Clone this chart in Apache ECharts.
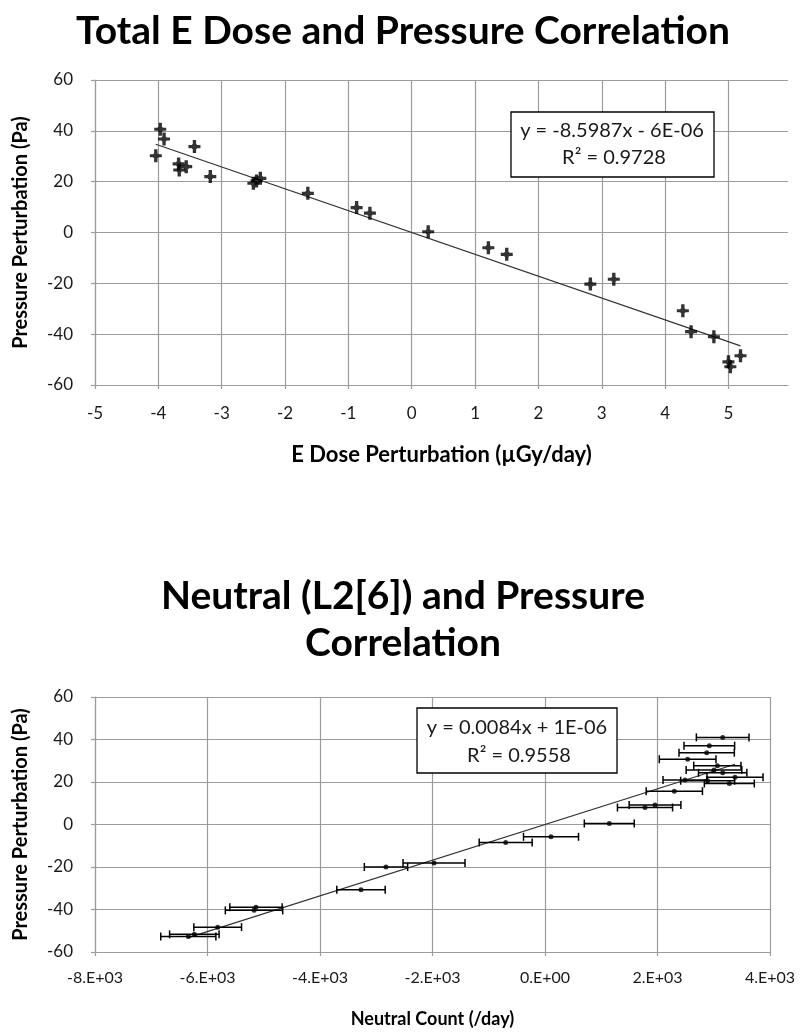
<!DOCTYPE html>
<html>
<head>
<meta charset="utf-8">
<script src="https://cdn.jsdelivr.net/npm/echarts@6/dist/echarts.min.js"></script>
<style>
	html, body { margin: 0; padding: 0; background: #fff; }
	#main { width: 806px; height: 1032px; }
</style>
</head>
<body>
<div id="main"></div>
<script>
	/*上图：E Dose 与压力*/
	var doseX = [-3.97, -3.91, -3.43, -4.04, -3.68, -3.56, -3.67, -3.18, -2.39, -2.45, -2.50, -1.64, -0.87, -0.66, 0.26, 1.21, 1.50, 3.19, 2.82, 4.28, 4.41, 4.77, 5.19, 5.00, 5.03];
	var doseY = [40.6, 36.8, 33.8, 30.2, 27.0, 25.9, 24.6, 22.0, 21.3, 20.3, 19.4, 15.4, 9.8, 7.6, 0.3, -6.0, -8.6, -18.4, -20.3, -30.8, -39.0, -41.0, -48.5, -50.9, -52.8];
	var doseFit = { slope: -8.5987, icept: -6e-6 };

	/*下图：Neutral 与压力*/
	var neutX = [3159, 2921, 2874, 2536, 3064, 3004, 3159, 3378, 2489, 2892, 3277, 2299, 1956, 1778, 1143, 107, -699, -1973, -2827, -3271, -5138, -5173, -5819, -6234, -6341];
	var neutY = [41.0, 37.1, 33.8, 30.7, 27.7, 25.6, 24.3, 22.2, 20.9, 20.6, 19.3, 15.7, 9.2, 8.0, 0.5, -5.8, -8.5, -18.1, -20.0, -30.7, -38.9, -40.4, -48.3, -51.7, -52.7];
	var neutErr = [468, 450, 492, 504, 420, 495, 430, 498, 391, 480, 444, 500, 460, 490, 444, 489, 471, 551, 385, 430, 465, 510, 424, 440, 490];
	var neutFit = { slope: 0.0084, icept: 1e-6 };

	var font = 'Lato';
	var gridColor = '#9c9c9c';

	function pairs(xs, ys) {
		var out = [];
		for (var i = 0; i < xs.length; i++) {
			out.push([xs[i], ys[i]]);
		}
		return out;
	}

	/*趋势线：数据范围两端*/
	function fitLine(xs, fit) {
		var lo = Math.min.apply(null, xs);
		var hi = Math.max.apply(null, xs);
		return [[lo, fit.slope * lo + fit.icept], [hi, fit.slope * hi + fit.icept]];
	}

	function sciLabel(v) {
		if (v == 0) return '0.E+00';
		var e = Math.floor(Math.log10(Math.abs(v)) + 1e-9);
		var m = Math.round(v / Math.pow(10, e));
		return m + '.E' + (e < 0 ? '-' : '+') + (Math.abs(e) < 10 ? '0' : '') + Math.abs(e);
	}

	function valueAxis(idx, min, max, step, extra) {
		var ax = {
			type: 'value',
			gridIndex: idx,
			min: min,
			max: max,
			interval: step,
			axisLine: { show: true, onZero: false, lineStyle: { color: gridColor, width: 1.2 } },
			axisTick: { show: true, length: 4, lineStyle: { color: gridColor, width: 1.2 } },
			splitLine: { show: true, lineStyle: { color: gridColor, width: 1.2 } },
			axisLabel: { color: '#1a1a1a', fontFamily: font, fontSize: 17 },
			nameTextStyle: { color: '#000', fontFamily: font, fontSize: 20, fontWeight: 'bold' },
			nameLocation: 'middle'
		};
		for (var k in extra) ax[k] = extra[k];
		return ax;
	}

	var crossMark = 'path://M3.6,0h2.8v3.2h0.6v0.6h3v2.4h-3v0.6h-0.6v3.2h-2.8v-3.2h-0.6v-0.6h-3v-2.4h3v-0.6h0.6z';
	var titleStyle = { fontFamily: font, fontSize: 39, fontWeight: 'bold', color: '#000' };

	var option = {
		animation: false,
		backgroundColor: '#fff',
		title: [{
			text: 'Total E Dose and Pressure Correlation',
			left: 'center',
			top: 7,
			textStyle: titleStyle
		}, {
			text: 'Neutral (L2[6]) and Pressure',
			left: 'center',
			top: 572,
			textStyle: titleStyle
		}, {
			text: 'Correlation',
			left: 'center',
			top: 619,
			textStyle: titleStyle
		}],
		grid: [
			{ left: 95, top: 80, width: 693, height: 305 },
			{ left: 95, top: 697, width: 675, height: 255 }
		],
		xAxis: [
			valueAxis(0, -5, 5.94, 1, {
				name: 'E Dose Perturbation (µGy/day)',
				nameGap: 59,
				nameTextStyle: { color: '#000', fontFamily: font, fontSize: 22, fontWeight: 'bold' },
				axisLabel: { color: '#1a1a1a', fontFamily: font, fontSize: 17, margin: 20, showMaxLabel: false },
				splitLine: { show: true, showMaxLine: false, lineStyle: { color: gridColor, width: 1.2 } }
			}),
			valueAxis(1, -8000, 4000, 2000, {
				name: 'Neutral Count (/day)',
				nameGap: 58,
				nameTextStyle: { color: '#000', fontFamily: font, fontSize: 18, fontWeight: 'bold' },
				axisLabel: { color: '#1a1a1a', fontFamily: font, fontSize: 16, margin: 18, formatter: sciLabel }
			})
		],
		yAxis: [
			valueAxis(0, -60, 60, 20, {
				name: 'Pressure Perturbation (Pa)',
				nameGap: 64,
				axisLabel: { color: '#1a1a1a', fontFamily: font, fontSize: 17, margin: 22 }
			}),
			valueAxis(1, -60, 60, 20, {
				name: 'Pressure Perturbation (Pa)',
				nameGap: 64,
				axisLabel: { color: '#1a1a1a', fontFamily: font, fontSize: 17, margin: 22 }
			})
		],
		series: [{
			type: 'line',
			xAxisIndex: 0,
			yAxisIndex: 0,
			data: fitLine(doseX, doseFit),
			showSymbol: false,
			lineStyle: { color: '#333', width: 1.2 },
			z: 3
		}, {
			type: 'scatter',
			xAxisIndex: 0,
			yAxisIndex: 0,
			data: pairs(doseX, doseY),
			symbol: crossMark,
			symbolSize: [12, 13],
			itemStyle: { color: '#000' },
			z: 4
		}, {
			type: 'line',
			xAxisIndex: 1,
			yAxisIndex: 1,
			data: fitLine(neutX, neutFit),
			showSymbol: false,
			lineStyle: { color: '#333', width: 1.2 },
			z: 3
		}, {
			/*误差线*/
			type: 'custom',
			xAxisIndex: 1,
			yAxisIndex: 1,
			data: neutX.map(function(v, i) { return [v, neutY[i], neutErr[i]]; }),
			renderItem: function(params, api) {
				var x = api.value(0), y = api.value(1), e = api.value(2);
				var a = api.coord([x - e, y]);
				var b = api.coord([x + e, y]);
				var st = { stroke: '#000', lineWidth: 1.5, fill: null };
				return {
					type: 'group',
					children: [
						{ type: 'line', shape: { x1: a[0], y1: a[1], x2: b[0], y2: b[1] }, style: st },
						{ type: 'line', shape: { x1: a[0], y1: a[1] - 4, x2: a[0], y2: a[1] + 4 }, style: st },
						{ type: 'line', shape: { x1: b[0], y1: b[1] - 4, x2: b[0], y2: b[1] + 4 }, style: st }
					]
				};
			},
			z: 4
		}, {
			type: 'scatter',
			xAxisIndex: 1,
			yAxisIndex: 1,
			data: pairs(neutX, neutY),
			symbol: 'circle',
			symbolSize: 5,
			itemStyle: { color: '#000' },
			z: 5
		}],
		graphic: [{
			type: 'rect',
			shape: { x: 511, y: 112, width: 203, height: 65 },
			style: { fill: '#fff', stroke: '#000', lineWidth: 1.3 },
			z: 100
		}, {
			type: 'text',
			x: 612, y: 131, z: 101,
			style: { text: 'y = -8.5987x - 6E-06', align: 'center', verticalAlign: 'middle', font: '20px Lato', fill: '#1a1a1a' }
		}, {
			type: 'text',
			x: 614, y: 158, z: 101,
			style: { text: 'R² = 0.9728', align: 'center', verticalAlign: 'middle', font: '20px Lato', fill: '#1a1a1a' }
		}, {
			type: 'rect',
			shape: { x: 417, y: 708, width: 200, height: 65 },
			style: { fill: '#fff', stroke: '#000', lineWidth: 1.3 },
			z: 100
		}, {
			type: 'text',
			x: 517, y: 728, z: 101,
			style: { text: 'y = 0.0084x + 1E-06', align: 'center', verticalAlign: 'middle', font: '20px Lato', fill: '#1a1a1a' }
		}, {
			type: 'text',
			x: 519, y: 756, z: 101,
			style: { text: 'R² = 0.9558', align: 'center', verticalAlign: 'middle', font: '20px Lato', fill: '#1a1a1a' }
		}]
	};

	var chart = echarts.init(document.getElementById('main'));
	chart.setOption(option);
</script>
</body>
</html>
